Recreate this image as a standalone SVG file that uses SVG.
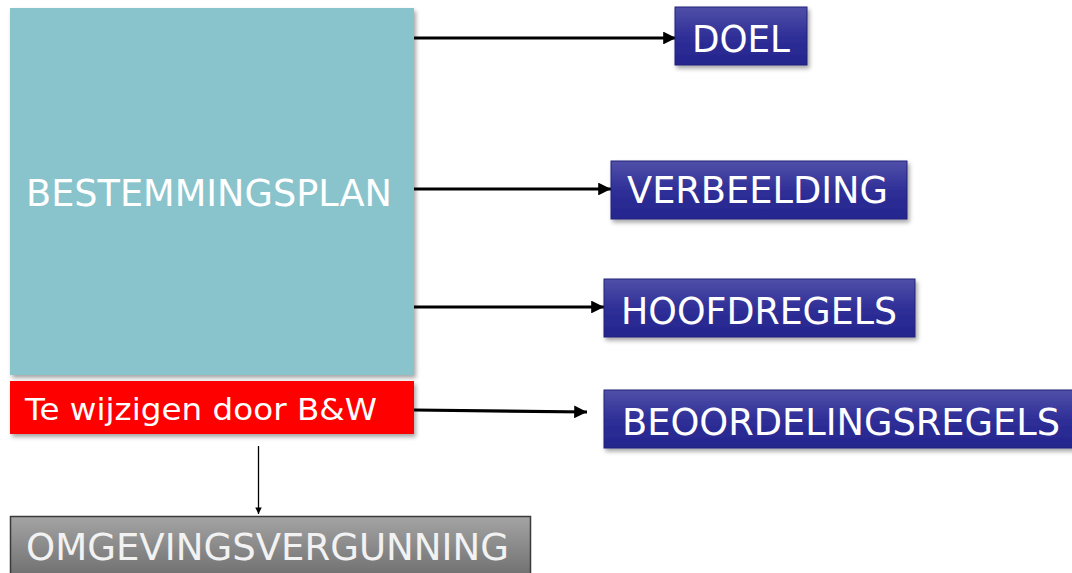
<svg xmlns="http://www.w3.org/2000/svg" width="1072" height="573" viewBox="0 0 1072 573">
<defs>
<style>
.t{font-family:"DejaVu Sans","Liberation Sans",sans-serif;fill:#fff}
.big{font-size:37px}
.navy{fill:url(#gNavy);stroke:#23237a;stroke-width:1}
.c{stroke:#000;stroke-width:3.2;fill:none}
</style>
<linearGradient id="gNavy" x1="0" y1="0" x2="0" y2="1">
<stop offset="0" stop-color="#5050a8"/>
<stop offset="0.5" stop-color="#2f2f98"/>
<stop offset="1" stop-color="#25258e"/>
</linearGradient>
<linearGradient id="gGray" x1="0" y1="0" x2="0" y2="1">
<stop offset="0" stop-color="#a4a4a4"/>
<stop offset="1" stop-color="#6e6e6e"/>
</linearGradient>
<filter id="sh" x="-10%" y="-10%" width="120%" height="130%">
<feDropShadow dx="2" dy="3" stdDeviation="2" flood-color="#000" flood-opacity="0.35"/>
</filter>
<marker id="ah" viewBox="0 0 10 10" refX="10" refY="5" markerWidth="4.4" markerHeight="4" orient="auto" markerUnits="strokeWidth">
<path d="M0,0 L10,5 L0,10 z" fill="#000"/>
</marker>
<marker id="ahs" viewBox="0 0 10 10" refX="10" refY="5" markerWidth="6" markerHeight="5" orient="auto" markerUnits="strokeWidth">
<path d="M0,0 L10,5 L0,10 z" fill="#000"/>
</marker>
</defs>
<rect width="1072" height="573" fill="#fff"/>

<g id="connectors">
<line class="c" x1="414" y1="38" x2="676" y2="38" marker-end="url(#ah)"/>
<line class="c" x1="414" y1="189" x2="611" y2="189" marker-end="url(#ah)"/>
<line class="c" x1="414" y1="307" x2="604" y2="307" marker-end="url(#ah)"/>
<line class="c" x1="414" y1="410" x2="587" y2="412" marker-end="url(#ah)"/>
<line x1="258.5" y1="446" x2="258.5" y2="514" stroke="#000" stroke-width="1.3" marker-end="url(#ahs)"/>
</g>

<g id="bestemmingsplan">
<rect x="10" y="8" width="404" height="367" fill="#89c4cc" filter="url(#sh)"/>
<text class="t big" x="26" y="206" textLength="366" lengthAdjust="spacingAndGlyphs">BESTEMMINGSPLAN</text>
</g>

<g id="te-wijzigen">
<rect x="10" y="381" width="404" height="53" fill="#ff0000" filter="url(#sh)"/>
<text class="t" x="25" y="420" font-size="31" textLength="352" lengthAdjust="spacingAndGlyphs">Te wijzigen door B&amp;W</text>
</g>

<g id="omgevingsvergunning">
<rect x="10.5" y="516.5" width="520" height="62" fill="url(#gGray)" stroke="#3a3a3a" stroke-width="1.5"/>
<text x="26" y="560" font-size="37" textLength="483" lengthAdjust="spacingAndGlyphs" font-family="DejaVu Sans, Liberation Sans, sans-serif" fill="#f2f2f2">OMGEVINGSVERGUNNING</text>
</g>

<g id="doel">
<rect class="navy" x="675" y="7" width="132" height="58" filter="url(#sh)"/>
<text class="t big" x="692" y="52" textLength="98" lengthAdjust="spacingAndGlyphs">DOEL</text>
</g>

<g id="verbeelding">
<rect class="navy" x="611" y="161" width="296" height="58" filter="url(#sh)"/>
<text class="t big" x="627" y="203" textLength="261" lengthAdjust="spacingAndGlyphs">VERBEELDING</text>
</g>

<g id="hoofdregels">
<rect class="navy" x="604" y="279" width="311" height="58" filter="url(#sh)"/>
<text class="t big" x="621" y="324" textLength="276" lengthAdjust="spacingAndGlyphs">HOOFDREGELS</text>
</g>

<g id="beoordelingsregels">
<rect class="navy" x="604" y="390" width="470" height="58" filter="url(#sh)"/>
<text class="t big" x="622" y="435" textLength="438" lengthAdjust="spacingAndGlyphs">BEOORDELINGSREGELS</text>
</g>
</svg>
